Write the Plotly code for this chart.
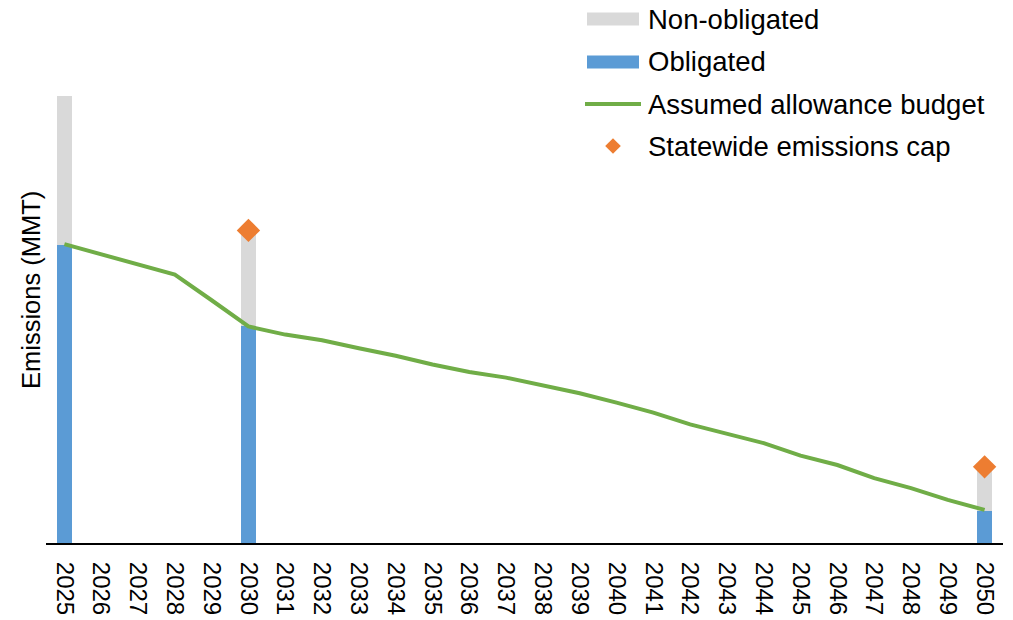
import plotly.graph_objects as go

years = [str(y) for y in range(2025, 2051)]

# Stacked bars (only for 2025, 2030, 2050)
obligated = {"2025": 47.8, "2030": 34.7, "2050": 5.2}
non_obligated = {"2025": 23.8, "2030": 15.1, "2050": 6.5}

# Assumed allowance budget (line)
allowance_budget = [47.9, 46.3, 44.7, 43.0, 38.9, 34.7, 33.4, 32.5, 31.2, 30.0,
                    28.6, 27.4, 26.5, 25.3, 24.0, 22.5, 20.9, 19.0, 17.5, 16.0,
                    14.0, 12.5, 10.4, 8.8, 6.9, 5.3]

# Statewide emissions cap (markers)
cap_years = ["2030", "2050"]
cap_values = [50.1, 12.2]

names = ["Non-obligated", "Obligated", "Assumed allowance budget", "Statewide emissions cap"]
y_title = "Emissions (MMT)"

C_GREY = "#D9D9D9"
C_BLUE = "#5B9BD5"
C_GREEN = "#70AD47"
C_ORANGE = "#ED7D31"
FONT = "Liberation Sans, Arial, sans-serif"

W, H = 1013, 620
ML, MR, MT, MB = 46, 10, 90, 77
PW, PH = W - ML - MR, H - MT - MB

fig = go.Figure()
fig.add_trace(go.Bar(x=years, y=[obligated.get(y) for y in years], name=names[1],
                     marker=dict(color=C_BLUE, line=dict(width=0)), showlegend=False))
fig.add_trace(go.Bar(x=years, y=[non_obligated.get(y) for y in years], name=names[0],
                     marker=dict(color=C_GREY, line=dict(width=0)), showlegend=False))
fig.add_trace(go.Scatter(x=years, y=allowance_budget, mode="lines", name=names[2],
                         line=dict(color=C_GREEN, width=4), showlegend=False))
fig.add_trace(go.Scatter(x=cap_years, y=cap_values, mode="markers", name=names[3],
                         marker=dict(symbol="diamond", size=18, color=C_ORANGE, line=dict(width=0)),
                         showlegend=False))

# Manual legend (pixel positions converted to paper coordinates)
def px_x(px):
    return (px - ML) / PW

def px_y(py):
    return (H - MB - py) / PH

rows = [19, 62, 104, 146]
sw_x0, sw_x1, txt_x = 587, 639, 646
shapes = []
annotations = []
for i, (nm, ry) in enumerate(zip(names, rows)):
    if i in (0, 1):
        shapes.append(dict(type="rect", xref="paper", yref="paper",
                           x0=px_x(sw_x0), x1=px_x(sw_x1),
                           y0=px_y(ry + 6.5), y1=px_y(ry - 6.5),
                           fillcolor=C_GREY if i == 0 else C_BLUE, line=dict(width=0)))
    elif i == 2:
        shapes.append(dict(type="line", xref="paper", yref="paper",
                           x0=px_x(585), x1=px_x(641), y0=px_y(ry), y1=px_y(ry),
                           line=dict(color=C_GREEN, width=4)))
    annotations.append(dict(text=nm, xref="paper", yref="paper", x=px_x(txt_x), y=px_y(ry),
                            xanchor="left", yanchor="middle", showarrow=False,
                            font=dict(family=FONT, size=27.5, color="#000000")))

# y-axis title
annotations.append(dict(text=y_title, xref="paper", yref="paper", x=px_x(31), y=px_y(290),
                        xanchor="center", yanchor="middle", textangle=-90, showarrow=False,
                        font=dict(family=FONT, size=25.5, color="#000000")))

# legend diamond
fig.add_trace(go.Scatter(x=[px_x(613)], y=[px_y(146)], xaxis="x2", yaxis="y2", mode="markers",
                         marker=dict(symbol="diamond", size=12, color=C_ORANGE),
                         showlegend=False, hoverinfo="skip"))

fig.update_layout(
    width=W, height=H,
    margin=dict(l=ML, r=MR, t=MT, b=MB, autoexpand=False),
    paper_bgcolor="white", plot_bgcolor="white",
    barmode="stack", bargap=0.61,
    showlegend=False,
    font=dict(family=FONT, color="#000000"),
    xaxis=dict(type="category", range=[-0.5, 25.5], showgrid=False, zeroline=False,
               showline=True, linecolor="#000000", linewidth=2, ticks="",
               tickangle=90, tickfont=dict(family=FONT, size=24, color="#000000"),
               ticklabelstandoff=12, automargin=False),
    yaxis=dict(range=[0, PH / 6.24], showgrid=False, zeroline=False, showline=False,
               showticklabels=False, ticks="", automargin=False),
    xaxis2=dict(range=[0, 1], overlaying="x", visible=False, fixedrange=True),
    yaxis2=dict(range=[0, 1], overlaying="y", visible=False, fixedrange=True),
    shapes=shapes,
    annotations=annotations,
)

fig.write_html("out.html")
